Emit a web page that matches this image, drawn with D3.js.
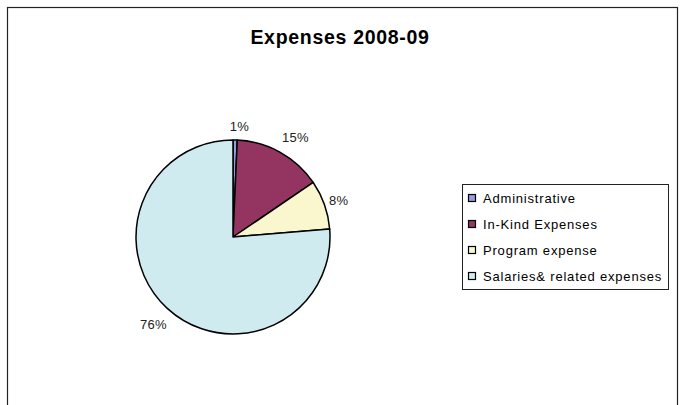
<!DOCTYPE html>
<html><head><meta charset="utf-8">
<script src="https://cdn.jsdelivr.net/npm/d3@7"></script>
<style>body{margin:0;background:#fff;} svg{display:block;}</style>
</head><body>
<script>
const categories = ["Administrative", "In-Kind Expenses", "Program expense", "Salaries& related expenses"];
const values = [0.7, 14.8, 8.2, 76.3];
const labels = ["1%", "15%", "8%", "76%"];
const colors = ["#9999DD", "#933461", "#FAF7CF", "#CFEBF0"];

const W = 683, H = 405;
const font = "Liberation Sans, Arial, sans-serif";
const svg = d3.select("body").append("svg").attr("width", W).attr("height", H);
svg.append("rect").attr("x", 7.5).attr("y", 7.5).attr("width", 670).attr("height", 420)
  .attr("fill", "#fff").attr("stroke", "#222").attr("stroke-width", 1.2);

svg.append("text").attr("x", 340).attr("y", 44).attr("text-anchor", "middle")
  .attr("font-family", font).attr("font-weight", "bold")
  .attr("font-size", 19.5).attr("letter-spacing", 0.7).attr("fill", "#000").text("Expenses 2008-09");

const cx = 233, cy = 237, r = 97;
const pie = d3.pie().sort(null).value(d => d)(values);
const arc = d3.arc().innerRadius(0).outerRadius(r);
const g = svg.append("g").attr("transform", `translate(${cx},${cy})`);
g.selectAll("path").data(pie).join("path")
  .attr("d", arc).attr("fill", (d, i) => colors[i])
  .attr("stroke", "#000").attr("stroke-width", 1.5).attr("stroke-linejoin", "round");

const labelRadius = [111, 118, 110, 117.5];
const labelDx = [4, 5, 2, 0];
const labelDy = [0, 3, 0, 1];
g.selectAll("text.lbl").data(pie).join("text").attr("class", "lbl")
  .attr("transform", (d, i) => {
    const a = d3.arc().innerRadius(labelRadius[i]).outerRadius(labelRadius[i]);
    const [x, y] = a.centroid(d);
    return `translate(${x + labelDx[i]},${y + labelDy[i]})`;
  })
  .attr("text-anchor", "middle").attr("dy", "0.35em")
  .attr("font-family", font).attr("font-size", 13).attr("letter-spacing", 0.3)
  .attr("fill", "#222").text((d, i) => labels[i]);

// legend
const lg = svg.append("g");
lg.append("rect").attr("x", 462.5).attr("y", 184.5).attr("width", 206).attr("height", 105)
  .attr("fill", "#fff").attr("stroke", "#222").attr("stroke-width", 1);
const rowY = d3.scalePoint().domain(categories).range([198, 276]);
categories.forEach((c, i) => {
  const y = rowY(c);
  lg.append("rect").attr("x", 468.5).attr("y", y - 3.5).attr("width", 7).attr("height", 7)
    .attr("fill", colors[i]).attr("stroke", "#000").attr("stroke-width", 1.2);
  lg.append("text").attr("x", 483).attr("y", y).attr("dy", "0.35em")
    .attr("font-family", font).attr("font-size", 13).attr("letter-spacing", 0.8)
    .attr("fill", "#000").text(c);
});
</script>
</body></html>
